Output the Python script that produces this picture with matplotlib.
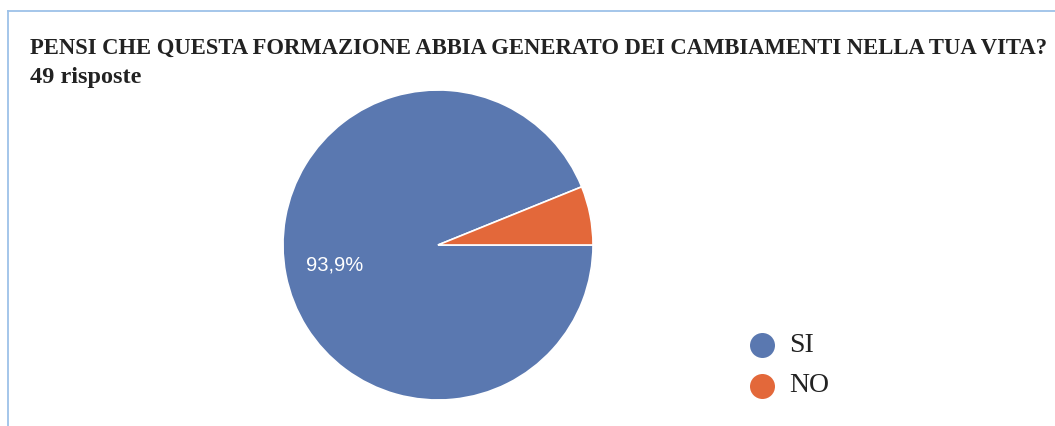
import matplotlib
matplotlib.use("Agg")
import matplotlib.pyplot as plt
from matplotlib.lines import Line2D

title = "PENSI CHE QUESTA FORMAZIONE ABBIA GENERATO DEI CAMBIAMENTI NELLA TUA VITA?"
subtitle = "49 risposte"
categories = ["SI", "NO"]
counts = [46, 3]
colors = ["#5a78b0", "#e3683a"]

W, H = 1055, 426
fig = plt.figure(figsize=(W / 100, H / 100), dpi=100)
fig.patch.set_facecolor("white")

# light blue frame along the top and left edges
frame = "#9dc1e8"
fig.add_artist(Line2D([8 / W, 1], [1 - 11 / H, 1 - 11 / H], color=frame, lw=1.3, transform=fig.transFigure))
fig.add_artist(Line2D([8 / W, 8 / W], [0, 1 - 11 / H], color=frame, lw=1.3, transform=fig.transFigure))

serif = ["Liberation Serif", "DejaVu Serif"]
fig.text(30 / W, 1 - 48 / H, title, family=serif, fontweight="bold", fontsize=16.3,
         color="#222222", va="center", ha="left")
fig.text(30 / W, 1 - 77 / H, subtitle, family=serif, fontweight="bold", fontsize=17.5,
         color="#222222", va="center", ha="left")

# pie
cx, cy, r = 438, 245, 155
ax = fig.add_axes([(cx - r) / W, (H - cy - r) / H, 2 * r / W, 2 * r / H])
ax.set_aspect("equal")

def fmt(p):
    return f"{p:.1f}%".replace(".", ",") if p > 10 else ""

wedges, texts, autotexts = ax.pie(
    counts, colors=colors, startangle=0, counterclock=False,
    autopct=fmt, pctdistance=0.68,
    wedgeprops=dict(edgecolor="white", linewidth=1.2),
    textprops=dict(color="white", fontsize=14.5, family="Liberation Sans"),
)
ax.set_xlim(-1.0, 1.0)
ax.set_ylim(-1.0, 1.0)
ax.axis("off")

# legend
lx, ly0, dy = 762, 345, 41
for i, (lab, col) in enumerate(zip(categories, colors)):
    y = 1 - (ly0 + i * dy) / H
    fig.add_artist(Line2D([lx / W], [y], marker="o", markersize=18, color=col,
                          markeredgewidth=0, transform=fig.transFigure))
    fig.text(789 / W, y, lab, family=serif, fontsize=20, color="#222222", va="center", ha="left")

fig.savefig("out.png", dpi=100, facecolor="white")
